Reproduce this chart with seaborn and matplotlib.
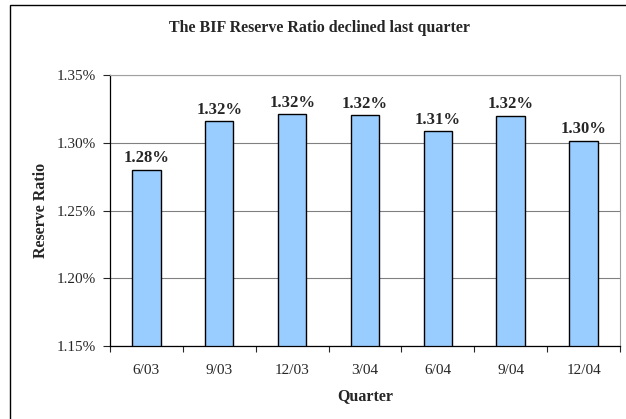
import matplotlib
matplotlib.use("Agg")
import matplotlib.pyplot as plt
import matplotlib.ticker as mticker
from matplotlib.patches import Rectangle
import numpy as np
import pandas as pd
import seaborn as sns

# data
quarters = ["6/03", "9/03", "12/03", "3/04", "6/04", "9/04", "12/04"]
reserve_ratio = [1.280, 1.316, 1.321, 1.3205, 1.3085, 1.320, 1.3015]

df = pd.DataFrame({"Quarter": quarters, "Reserve Ratio": reserve_ratio})

sns.set_style("white")
plt.rcParams["font.family"] = ["Liberation Serif", "DejaVu Serif"]

fig = plt.figure(figsize=(6.26, 4.19), dpi=100)
ax = fig.add_axes([0.1757, 0.1742, 0.8147, 0.6468])

sns.barplot(data=df, x="Quarter", y="Reserve Ratio", color="#99CCFF",
            saturation=1, edgecolor="black", linewidth=1.0, width=0.39, ax=ax)

ax.set_ylim(1.15, 1.35)
ax.set_xlim(-0.5, len(quarters) - 0.5)
ax.yaxis.set_major_locator(mticker.MultipleLocator(0.05))
ax.yaxis.set_major_formatter(mticker.FormatStrFormatter("%.2f%%"))
ax.grid(axis="y", color="#808080", linewidth=0.8)
ax.set_axisbelow(True)

# excel style ticks between categories
ax.xaxis.set_minor_locator(mticker.FixedLocator(np.arange(-0.5, len(quarters), 1.0)))
ax.tick_params(axis="x", which="major", length=0, pad=13, labelsize=11)
ax.tick_params(axis="x", which="minor", length=4, width=0.8, direction="out", bottom=True)
ax.tick_params(axis="y", length=5, width=0.8, direction="out", left=True, labelsize=11, pad=5)

for side in ["left", "bottom"]:
    ax.spines[side].set_color("black")
    ax.spines[side].set_linewidth(0.9)
for side in ["top", "right"]:
    ax.spines[side].set_visible(True)
    ax.spines[side].set_color("#a0a0a0")
    ax.spines[side].set_linewidth(0.8)

for i, v in enumerate(reserve_ratio):
    ax.annotate(f"{v:.2f}%", (i, v), xytext=(0, 2.5), textcoords="offset points",
                ha="center", va="bottom", fontsize=12, fontweight="bold")

ax.set_xlabel("Quarter", fontsize=11.5, fontweight="bold", labelpad=8)
ax.set_ylabel("Reserve Ratio", fontsize=11.5, fontweight="bold", labelpad=6)
fig.text(0.51, 0.933, "The BIF Reserve Ratio declined last quarter",
         ha="center", va="center", fontsize=11.5, fontweight="bold")

# outer chart border
fig.add_artist(Rectangle((10 / 626, -0.1), 1.2, 1.1 - 5 / 419, transform=fig.transFigure,
                         fill=False, edgecolor="black", linewidth=1.0))

fig.savefig("out.png", dpi=100)
